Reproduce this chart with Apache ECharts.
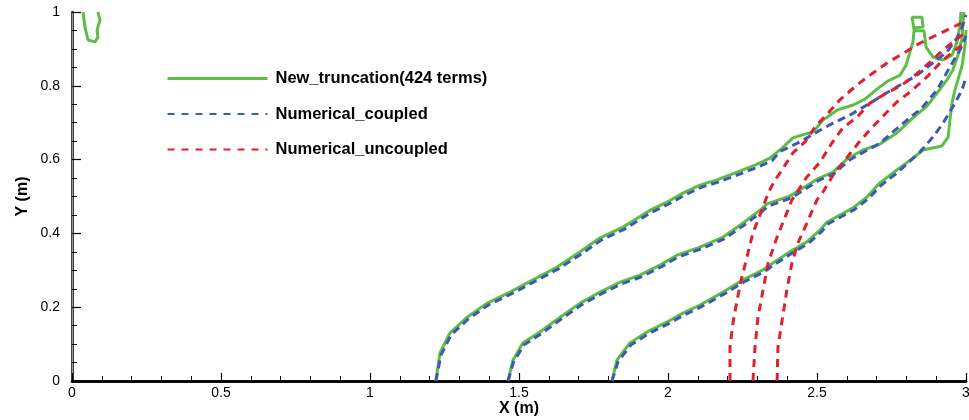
<!DOCTYPE html>
<html>
<head>
<meta charset="utf-8">
<script src="https://cdn.jsdelivr.net/npm/echarts@6/dist/echarts.min.js"></script>
<style>html,body{margin:0;padding:0;background:#fff;}#c{width:969px;height:420px;}</style>
</head>
<body>
<div id="c"></div>
<script>
const seriesNames = ['New_truncation(424 terms)', 'Numerical_coupled', 'Numerical_uncoupled'];
const xTicks = [0, 0.5, 1, 1.5, 2, 2.5, 3];
const yTicks = [0, 0.2, 0.4, 0.6, 0.8, 1];

// New_truncation contours
const green1 = [[1.221,0],[1.235,0.076],[1.268,0.130],[1.326,0.173],[1.393,0.211],[1.470,0.241],[1.547,0.274],[1.628,0.309],[1.705,0.350],[1.772,0.388],[1.849,0.417],[1.940,0.463],[1.997,0.485],[2.050,0.509],[2.107,0.531],[2.164,0.545],[2.225,0.564],[2.292,0.585],[2.342,0.604],[2.383,0.631],[2.419,0.659],[2.460,0.669],[2.487,0.675],[2.520,0.707],[2.567,0.734],[2.621,0.748],[2.661,0.764],[2.701,0.791],[2.738,0.813],[2.779,0.829],[2.799,0.856],[2.812,0.892],[2.822,0.919],[2.826,0.951],[2.819,0.986],[2.852,0.986],[2.856,0.959],[2.826,0.957],[2.829,0.949],[2.859,0.949],[2.866,0.905],[2.889,0.878],[2.923,0.870],[2.953,0.883],[2.970,0.919],[2.980,0.965],[2.983,1.0]];
const green2 = [[1.463,0],[1.480,0.057],[1.513,0.103],[1.570,0.133],[1.638,0.173],[1.705,0.211],[1.772,0.241],[1.839,0.268],[1.906,0.287],[1.973,0.314],[2.030,0.341],[2.107,0.363],[2.185,0.390],[2.252,0.428],[2.309,0.463],[2.332,0.480],[2.409,0.501],[2.453,0.523],[2.500,0.547],[2.554,0.566],[2.601,0.602],[2.654,0.626],[2.711,0.642],[2.768,0.672],[2.822,0.713],[2.869,0.745],[2.903,0.780],[2.936,0.816],[2.956,0.843],[2.973,0.883],[2.987,0.930],[2.990,0.973],[2.993,1.0]];
const green3 = [[1.812,0],[1.829,0.057],[1.872,0.103],[1.930,0.133],[1.997,0.160],[2.050,0.184],[2.107,0.206],[2.185,0.241],[2.252,0.274],[2.319,0.301],[2.352,0.320],[2.409,0.350],[2.466,0.377],[2.510,0.409],[2.534,0.431],[2.577,0.450],[2.621,0.469],[2.668,0.499],[2.711,0.537],[2.768,0.572],[2.822,0.604],[2.856,0.626],[2.919,0.637],[2.940,0.661],[2.946,0.707],[2.953,0.753],[2.963,0.789],[2.973,0.816],[2.987,0.856],[2.997,0.911],[3.0,0.951]];
const green4 = [[0.037,1.0],[0.044,0.957],[0.054,0.924],[0.077,0.919],[0.087,0.932],[0.084,0.951],[0.094,0.978],[0.087,1.0]];

// Numerical_coupled contours
const blue1 = [[1.221,0],[1.238,0.070],[1.272,0.125],[1.330,0.168],[1.397,0.206],[1.474,0.236],[1.551,0.269],[1.632,0.304],[1.709,0.344],[1.776,0.382],[1.853,0.411],[1.944,0.457],[2.001,0.479],[2.054,0.503],[2.111,0.525],[2.168,0.539],[2.229,0.557],[2.296,0.578],[2.349,0.597],[2.376,0.622],[2.443,0.648],[2.500,0.675],[2.554,0.699],[2.611,0.721],[2.678,0.753],[2.721,0.775],[2.779,0.802],[2.836,0.829],[2.879,0.856],[2.936,0.892],[2.970,0.930],[2.990,0.965],[3.0,0.992]];
const blue2 = [[1.463,0],[1.482,0.052],[1.517,0.098],[1.574,0.128],[1.642,0.168],[1.709,0.206],[1.776,0.236],[1.843,0.263],[1.910,0.282],[1.977,0.309],[2.034,0.336],[2.111,0.358],[2.189,0.385],[2.256,0.423],[2.313,0.458],[2.336,0.474],[2.413,0.496],[2.457,0.518],[2.504,0.543],[2.558,0.562],[2.605,0.597],[2.658,0.621],[2.711,0.644],[2.755,0.675],[2.802,0.707],[2.852,0.740],[2.903,0.789],[2.946,0.851],[2.980,0.897],[3.0,0.935]];
const blue3 = [[1.812,0],[1.832,0.052],[1.876,0.098],[1.934,0.128],[2.001,0.155],[2.054,0.179],[2.111,0.201],[2.189,0.236],[2.256,0.269],[2.323,0.296],[2.356,0.315],[2.413,0.345],[2.470,0.372],[2.514,0.404],[2.538,0.426],[2.581,0.445],[2.625,0.464],[2.672,0.494],[2.715,0.530],[2.772,0.566],[2.846,0.621],[2.889,0.661],[2.923,0.699],[2.956,0.743],[2.987,0.789],[3.0,0.824]];

// Numerical_uncoupled contours
const red1 = [[2.208,0],[2.208,0.092],[2.218,0.157],[2.232,0.220],[2.248,0.282],[2.265,0.336],[2.285,0.401],[2.315,0.463],[2.336,0.509],[2.359,0.545],[2.376,0.564],[2.419,0.618],[2.460,0.648],[2.493,0.688],[2.537,0.726],[2.577,0.762],[2.634,0.802],[2.678,0.829],[2.735,0.862],[2.779,0.883],[2.846,0.916],[2.903,0.938],[2.956,0.959],[3.0,0.976]];
const red2 = [[2.285,0],[2.292,0.092],[2.302,0.173],[2.319,0.247],[2.336,0.320],[2.366,0.390],[2.393,0.444],[2.416,0.491],[2.466,0.553],[2.510,0.593],[2.550,0.645],[2.587,0.686],[2.634,0.715],[2.678,0.753],[2.728,0.778],[2.779,0.799],[2.822,0.824],[2.879,0.864],[2.923,0.897],[2.970,0.927],[3.0,0.946]];
const red3 = [[2.366,0],[2.369,0.092],[2.383,0.165],[2.399,0.247],[2.416,0.320],[2.436,0.374],[2.466,0.428],[2.500,0.491],[2.520,0.512],[2.554,0.558],[2.594,0.599],[2.634,0.640],[2.671,0.675],[2.718,0.715],[2.768,0.756],[2.812,0.783],[2.869,0.824],[2.913,0.862],[2.956,0.892],[3.0,0.919]];

const GREEN = '#5cbf45', BLUE = '#3f58b8', RED = '#e0202e';
const FONT = "'Liberation Sans', Arial, Helvetica, sans-serif";

function mk(name, data, color, width, type, z) {
  return { name: name, type: 'line', data: data, symbol: 'none', showSymbol: false,
    clip: true, z: z, animation: false, smooth: false,
    lineStyle: { color: color, width: width, type: type }, itemStyle: { color: color } };
}

const hidden = { opacity: 0, borderWidth: 0 };
const chart = echarts.init(document.getElementById('c'), null, { renderer: 'canvas' });
chart.setOption({
  animation: false,
  backgroundColor: '#fff',
  grid: { left: 72, right: 3, top: 12, bottom: 39, containLabel: false, outerBoundsMode: 'none' },
  legend: {
    orient: 'vertical', left: 161, top: 65, itemWidth: 100, itemHeight: 16, itemGap: 18.5,
    textStyle: { fontFamily: FONT, fontWeight: 'bold', fontSize: 16.5, color: '#000', padding: [0,0,0,3] },
    data: [
      { name: seriesNames[0], itemStyle: hidden, lineStyle: { width: 3, type: 'solid', color: GREEN } },
      { name: seriesNames[1], itemStyle: hidden, lineStyle: { width: 2, type: [7, 7], color: BLUE } },
      { name: seriesNames[2], itemStyle: hidden, lineStyle: { width: 2, type: [7, 7], color: RED } }
    ]
  },
  xAxis: [{
    type: 'value', min: xTicks[0], max: xTicks[xTicks.length - 1], interval: 0.5,
    name: 'X (m)', nameLocation: 'middle', nameGap: 20, nameMoveOverlap: false,
    nameTextStyle: { fontFamily: FONT, fontWeight: 'bold', fontSize: 16, color: '#000' },
    axisLine: { lineStyle: { color: '#000', width: 2.5 } },
    axisTick: { inside: true, length: 8, lineStyle: { color: '#000', width: 1.2 } },
    minorTick: { show: true, splitNumber: 5, length: 5, lineStyle: { color: '#000', width: 1 } },
    axisLabel: { fontFamily: FONT, fontSize: 14, color: '#000', margin: 5 },
    splitLine: { show: false }
  }, {
    type: 'value', min: 0, max: 3, position: 'top',
    axisLine: { lineStyle: { color: '#000', width: 2.5 } },
    axisTick: { show: false }, axisLabel: { show: false }, splitLine: { show: false }
  }],
  yAxis: [{
    type: 'value', min: yTicks[0], max: yTicks[yTicks.length - 1], interval: 0.2,
    name: 'Y (m)', nameLocation: 'middle', nameGap: 41, nameMoveOverlap: false,
    nameTextStyle: { fontFamily: FONT, fontWeight: 'bold', fontSize: 16, color: '#000' },
    axisLine: { lineStyle: { color: '#000', width: 2.5 } },
    axisTick: { inside: true, length: 9, lineStyle: { color: '#000', width: 1.2 } },
    minorTick: { show: true, splitNumber: 4, length: 5, lineStyle: { color: '#000', width: 1 } },
    axisLabel: { fontFamily: FONT, fontSize: 14, color: '#000', margin: 12 },
    splitLine: { show: false }
  }, {
    type: 'value', min: 0, max: 1, position: 'right',
    axisLine: { show: true, lineStyle: { color: '#999', width: 1 } },
    axisTick: { show: false }, axisLabel: { show: false }, splitLine: { show: false }
  }],
  series: [
    mk(seriesNames[0], green1, GREEN, 3, 'solid', 2),
    mk(seriesNames[0], green2, GREEN, 3, 'solid', 2),
    mk(seriesNames[0], green3, GREEN, 3, 'solid', 2),
    mk(seriesNames[0], green4, GREEN, 3, 'solid', 2),
    mk(seriesNames[1], blue1, BLUE, 3, [8, 5], 3),
    mk(seriesNames[1], blue2, BLUE, 3, [8, 5], 3),
    mk(seriesNames[1], blue3, BLUE, 3, [8, 5], 3),
    mk(seriesNames[2], red1, RED, 3, [8, 6], 4),
    mk(seriesNames[2], red2, RED, 3, [8, 6], 4),
    mk(seriesNames[2], red3, RED, 3, [8, 6], 4)
  ]
});
</script>
</body>
</html>
